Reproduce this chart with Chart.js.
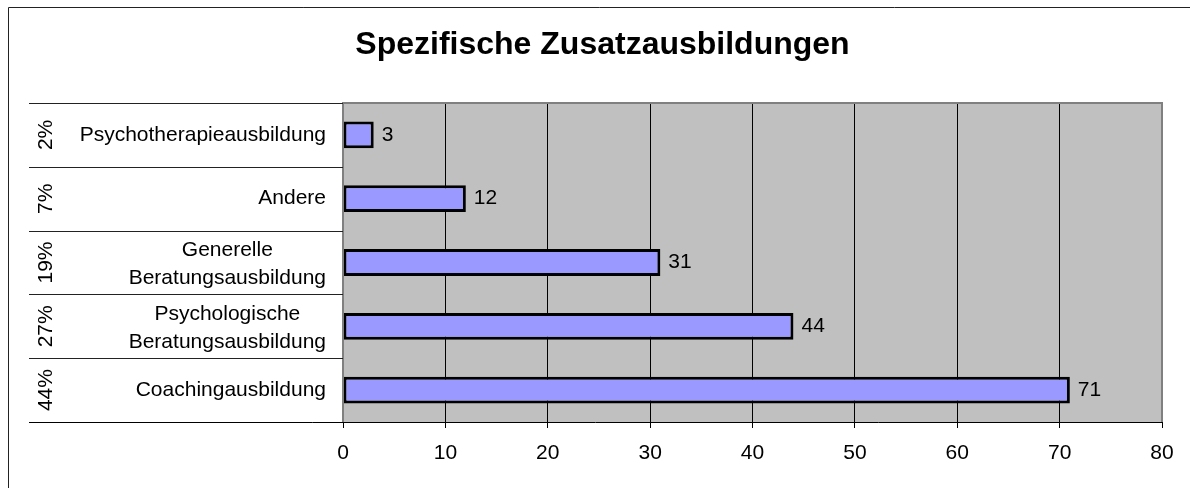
<!DOCTYPE html>
<html>
<head>
<meta charset="utf-8">
<script src="https://cdn.jsdelivr.net/npm/chart.js@4/dist/chart.umd.min.js"></script>
<style>
  html, body { margin: 0; padding: 0; background: #fff; }
  #wrap { width: 1190px; height: 488px; position: relative; }
</style>
</head>
<body>
<div id="wrap"><canvas id="c" width="1190" height="488"></canvas></div>
<script>
const chartTitle = 'Spezifische Zusatzausbildungen';
const categories = [
  ['Psychotherapieausbildung'],
  ['Andere'],
  ['Generelle', 'Beratungsausbildung'],
  ['Psychologische', 'Beratungsausbildung'],
  ['Coachingausbildung']
];
const counts = [3, 12, 31, 44, 71];
const shares = ['2%', '7%', '19%', '27%', '44%'];
const xTicks = [0, 10, 20, 30, 40, 50, 60, 70, 80];

const FONT = '"Liberation Sans", Arial, sans-serif';

const decor = {
  id: 'decor',
  beforeDraw(chart) {
    const { ctx, chartArea: a } = chart;
    ctx.save();
    ctx.fillStyle = '#ffffff';
    ctx.fillRect(0, 0, chart.width, chart.height);
    ctx.fillStyle = '#C0C0C0';
    ctx.fillRect(a.left, a.top, a.right - a.left, a.bottom - a.top);
    ctx.restore();
  },
  afterDraw(chart) {
    const { ctx, chartArea: a } = chart;
    const ys = chart.scales.y;
    ctx.save();
    // outer frame (left + top)
    ctx.strokeStyle = '#222';
    ctx.lineWidth = 1;
    ctx.beginPath();
    ctx.moveTo(8.5, chart.height);
    ctx.lineTo(8.5, 7.5);
    ctx.lineTo(chart.width, 7.5);
    ctx.stroke();
    // plot border
    ctx.strokeStyle = '#808080';
    ctx.lineWidth = 2;
    ctx.beginPath();
    ctx.moveTo(a.left, a.bottom);
    ctx.lineTo(a.left, a.top);
    ctx.lineTo(a.right, a.top);
    ctx.lineTo(a.right, a.bottom);
    ctx.stroke();
    // category separators
    const n = categories.length;
    const row = (ys.bottom - ys.top) / n;
    ctx.strokeStyle = '#222';
    ctx.lineWidth = 1;
    for (let i = 0; i < n; i++) {
      const yb = Math.round(ys.getPixelForValue(i) - row / 2) + 0.5;
      ctx.beginPath();
      ctx.moveTo(29, yb);
      ctx.lineTo(a.left, yb);
      ctx.stroke();
    }
    // bottom axis line
    ctx.strokeStyle = '#000';
    ctx.beginPath();
    ctx.moveTo(29, Math.round(a.bottom) + 0.5);
    ctx.lineTo(a.right, Math.round(a.bottom) + 0.5);
    ctx.stroke();
    // labels
    ctx.fillStyle = '#000';
    ctx.font = '21px ' + FONT;
    ctx.textBaseline = 'middle';
    const lh = 28;
    categories.forEach((lines, i) => {
      const yc = ys.getPixelForValue(i);
      const w = Math.max(...lines.map(l => ctx.measureText(l).width));
      const cx = a.left - 17 - w / 2;
      ctx.textAlign = 'center';
      const y0 = yc - (lines.length - 1) * lh / 2 + (lines.length > 1 ? 2 : 0);
      lines.forEach((l, k) => ctx.fillText(l, cx, y0 + k * lh));
      // percent, rotated
      ctx.save();
      ctx.translate(46, yc);
      ctx.rotate(-Math.PI / 2);
      ctx.textAlign = 'center';
      ctx.fillText(shares[i], 0, 0);
      ctx.restore();
    });
    // value labels
    const meta = chart.getDatasetMeta(0);
    ctx.textAlign = 'left';
    meta.data.forEach((bar, i) => {
      ctx.fillText(String(counts[i]), bar.x + 8, bar.y);
    });
    ctx.restore();
  }
};

new Chart(document.getElementById('c'), {
  type: 'bar',
  data: {
    labels: categories,
    datasets: [{
      data: counts,
      backgroundColor: '#9999FF',
      borderColor: '#000000',
      borderWidth: 3,
      borderSkipped: false,
      barPercentage: 0.42,
      categoryPercentage: 1.0
    }]
  },
  options: {
    indexAxis: 'y',
    responsive: false,
    animation: false,
    devicePixelRatio: 1,
    layout: { padding: { left: 43, right: 28, top: 0, bottom: 0 } },
    plugins: {
      legend: { display: false },
      tooltip: { enabled: false },
      title: {
        display: true,
        text: chartTitle,
        color: '#000',
        font: { family: FONT, size: 32, weight: 'bold', lineHeight: 1.2 },
        padding: { top: 26, bottom: 38.6 }
      }
    },
    scales: {
      x: {
        type: 'linear',
        min: xTicks[0],
        max: xTicks[xTicks.length - 1],
        afterBuildTicks(scale) { scale.ticks = xTicks.map(v => ({ value: v })); },
        afterFit(scale) { scale.height = 66; },
        border: { display: false },
        grid: {
          color: ctx => (ctx.tick && (ctx.tick.value === xTicks[0] || ctx.tick.value === xTicks[xTicks.length - 1])) ? 'rgba(0,0,0,0)' : '#000',
          tickColor: '#000',
          lineWidth: 1,
          drawTicks: true,
          tickLength: 6
        },
        ticks: {
          color: '#000',
          padding: 13,
          font: { family: FONT, size: 21 }
        }
      },
      y: {
        type: 'category',
        afterFit(scale) { scale.width = 300; },
        border: { display: false },
        grid: { display: false },
        ticks: { display: false }
      }
    }
  },
  plugins: [decor]
});
</script>
</body>
</html>
